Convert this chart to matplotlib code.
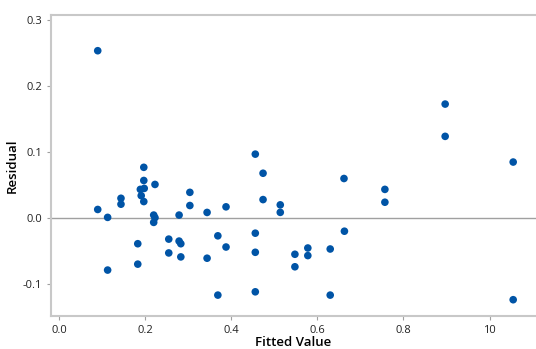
import numpy as np
from matplotlib import pyplot as plt

# residuals versus fitted values
fitted = [0.090, 0.090, 0.113, 0.113, 0.144, 0.144, 0.183, 0.183,
          0.189, 0.191, 0.197, 0.197, 0.197, 0.198, 0.220, 0.220,
          0.223, 0.223, 0.255, 0.255, 0.279, 0.279, 0.283, 0.283,
          0.304, 0.304, 0.344, 0.344, 0.369, 0.369, 0.388, 0.388,
          0.456, 0.456, 0.456, 0.456, 0.474, 0.474, 0.514, 0.514,
          0.548, 0.548, 0.578, 0.578, 0.630, 0.630, 0.662, 0.663,
          0.757, 0.757, 0.897, 0.897, 1.055, 1.055]
residual = [0.254, 0.013, 0.001, -0.079, 0.030, 0.021, -0.039, -0.070,
            0.0435, 0.034, 0.077, 0.057, 0.025, 0.045, 0.0045, -0.0066,
            0.051, 0.0005, -0.032, -0.053, 0.0045, -0.035, -0.039, -0.059,
            0.039, 0.019, 0.0085, -0.061, -0.027, -0.117, 0.017, -0.044,
            0.097, -0.023, -0.052, -0.112, 0.068, 0.028, 0.020, 0.0086,
            -0.055, -0.074, -0.0455, -0.057, -0.047, -0.117, 0.060, -0.020,
            0.0435, 0.024, 0.173, 0.124, 0.085, -0.124]

xticks = [0.0, 0.2, 0.4, 0.6, 0.8, 1.0]
xtick_labels = ["0.0", "0.2", "0.4", "0.6", "0.8", "10"]
yticks = [-0.1, 0.0, 0.1, 0.2, 0.3]
ytick_labels = ["-0.1", "0.0", "0.1", "0.2", "0.3"]

plt.rcParams["font.family"] = ["Open Sans", "DejaVu Sans"]

fig = plt.figure(figsize=(5.36, 3.49), dpi=100)
ax = fig.add_axes([0.0951, 0.0946, 0.9049, 0.862])

ax.axhline(0, color="#a0a0a0", lw=1.0, zorder=1)
ax.scatter(fitted, residual, s=30, color="#0054a6", edgecolors="none", zorder=3)

ax.set_xlim(-0.0186, 1.108)
ax.set_ylim(-0.1487, 0.308)
ax.set_xticks(xticks)
ax.set_xticklabels(xtick_labels)
ax.set_yticks(yticks)
ax.set_yticklabels(ytick_labels)
ax.tick_params(labelsize=8, colors="#222222", length=3, width=0.8)
ax.tick_params(axis="both", color="#a0a0a0")

for side in ["left", "top", "bottom"]:
    ax.spines[side].set_color("#c8c8c8")
    ax.spines[side].set_linewidth(1.5)
ax.spines["right"].set_visible(False)

ax.set_xlabel("Fitted Value", fontsize=9.5, fontweight="semibold")
ax.xaxis.set_label_coords(0.5, -0.066)
ax.set_ylabel("Residual", fontsize=9.5, fontweight="semibold")
ax.yaxis.set_label_coords(-0.066, 0.5)

fig.savefig("out.png", dpi=100)
